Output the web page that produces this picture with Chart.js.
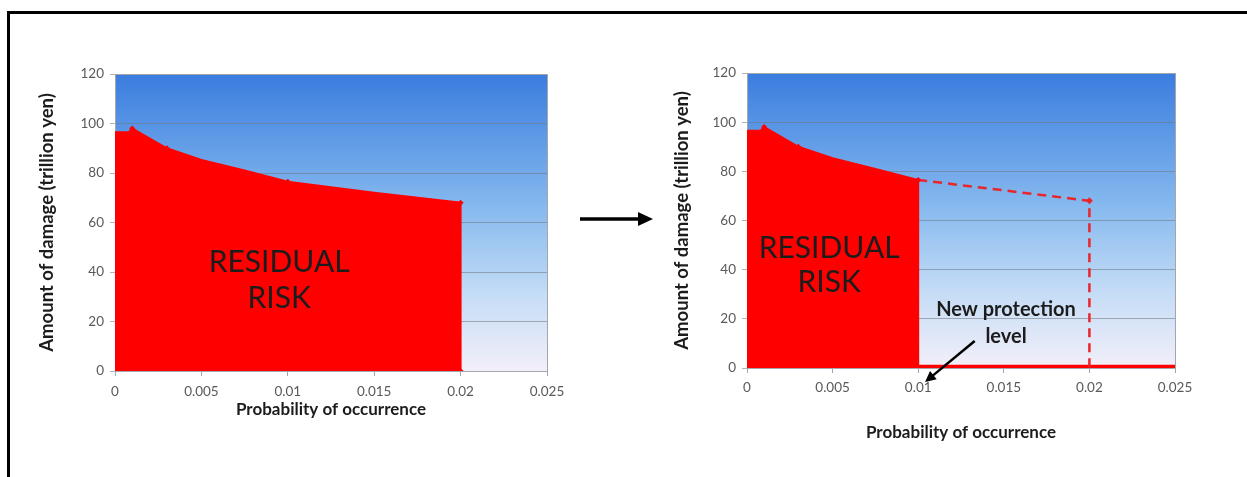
<!DOCTYPE html>
<html>
<head>
<meta charset="utf-8">
<script src="https://cdn.jsdelivr.net/npm/chart.js@4"></script>
<style>
  html, body { margin: 0; padding: 0; background: #fff; }
  body { width: 1247px; height: 477px; position: relative; overflow: hidden; }
  #frame { position: absolute; left: 7px; top: 11px; width: 1250px; height: 480px;
           border-top: 3px solid #000; border-left: 3px solid #000; }
  canvas { position: absolute; }
  #left { left: 0; top: 0; }
  #right { left: 620px; top: 0; }
  #arrow { position: absolute; left: 570px; top: 200px; }
</style>
</head>
<body>
<div id="frame"></div>
<canvas id="left" width="600" height="477"></canvas>
<canvas id="right" width="627" height="477"></canvas>
<svg id="arrow" width="100" height="40">
  <line x1="10" y1="19" x2="70" y2="19" stroke="#000" stroke-width="3.5"/>
  <polygon points="68,12 83,19 68,26" fill="#000"/>
</svg>
<script>
// damage curve: probability of occurrence vs amount of damage (trillion yen)
const probCurve = [0, 0.0008, 0.001, 0.003, 0.005, 0.0075, 0.01, 0.015, 0.02, 0.02];
const damageCurve = [96.5, 96.5, 98, 90, 85.3, 81, 76.5, 72, 68, 0];
const markedCurve = [false, false, true, true, false, false, true, false, true, true];

// after the new protection level only the part up to 0.01 stays as residual risk
const probResidual = [0, 0.0008, 0.001, 0.003, 0.005, 0.0075, 0.01, 0.01];
const damageResidual = [96.5, 96.5, 98, 90, 85.3, 81, 76.5, 0];
const markedResidual = [false, false, true, true, false, false, true, false];

const probRemoved = [0.01, 0.02, 0.02];
const damageRemoved = [76.5, 68, 0];

const probFloor = [0.01, 0.025];
const damageFloor = [0.6, 0.6];

const xTicks = [0, 0.005, 0.01, 0.015, 0.02, 0.025];
const yTicks = [0, 20, 40, 60, 80, 100, 120];

const RED = '#ff0000';
const TEXT = '#1c1c1c';
const FONT = 'Lato, "Open Sans", sans-serif';

function points(xs, ys) {
  return xs.map((x, i) => ({ x: x, y: ys[i] }));
}

// blue-to-lavender plot background plus grey plot frame
const plotBackground = {
  id: 'plotBackground',
  beforeDraw(chart) {
    const { ctx, chartArea: a } = chart;
    const g = ctx.createLinearGradient(0, a.top, 0, a.bottom);
    g.addColorStop(0, '#3a7ddf');
    g.addColorStop(0.45, '#86b9ee');
    g.addColorStop(0.75, '#c6ddf6');
    g.addColorStop(1, '#f3eff9');
    ctx.save();
    ctx.fillStyle = g;
    ctx.fillRect(a.left, a.top, a.right - a.left, a.bottom - a.top);
    ctx.restore();
  },
  beforeDatasetsDraw(chart) {
    const { ctx, chartArea: a } = chart;
    ctx.save();
    ctx.strokeStyle = '#a3a7ad';
    ctx.lineWidth = 1;
    ctx.strokeRect(a.left + 0.5, a.top + 0.5, a.right - a.left, a.bottom - a.top);
    ctx.restore();
  }
};

// text labels placed in data coordinates
const labels = {
  id: 'labels',
  afterDraw(chart, args, opts) {
    const { ctx, scales: { x, y } } = chart;
    ctx.save();
    ctx.textAlign = 'center';
    ctx.textBaseline = 'middle';
    ctx.fillStyle = TEXT;
    (opts.items || []).forEach(t => {
      ctx.font = t.font;
      ctx.fillText(t.text, x.getPixelForValue(t.x), y.getPixelForValue(t.y));
    });
    (opts.arrows || []).forEach(a => {
      const x1 = x.getPixelForValue(a.from[0]), y1 = y.getPixelForValue(a.from[1]);
      const x2 = x.getPixelForValue(a.to[0]), y2 = y.getPixelForValue(a.to[1]) + a.dy;
      const ang = Math.atan2(y2 - y1, x2 - x1);
      const head = 12;
      ctx.strokeStyle = '#000';
      ctx.lineWidth = 2.5;
      ctx.beginPath();
      ctx.moveTo(x1, y1);
      ctx.lineTo(x2 - Math.cos(ang) * head * 0.8, y2 - Math.sin(ang) * head * 0.8);
      ctx.stroke();
      ctx.fillStyle = '#000';
      ctx.beginPath();
      ctx.moveTo(x2, y2);
      ctx.lineTo(x2 - head * Math.cos(ang - 0.45), y2 - head * Math.sin(ang - 0.45));
      ctx.lineTo(x2 - head * Math.cos(ang + 0.45), y2 - head * Math.sin(ang + 0.45));
      ctx.closePath();
      ctx.fill();
    });
    ctx.restore();
  }
};

function scalesFor(yTitlePad, xBoxHeight, yBoxWidth, tickPad) {
  return {
    x: {
      type: 'linear',
      min: 0,
      max: 0.025,
      afterBuildTicks: s => { s.ticks = xTicks.map(v => ({ value: v })); },
      afterFit: s => { s.height = xBoxHeight; },
      ticks: {
        color: '#595959',
        font: { family: FONT, size: 13.5 },
        padding: tickPad,
        callback: v => String(Number(v.toFixed(3)))
      },
      grid: { drawOnChartArea: false, tickLength: 5, color: '#a3a7ad' },
      border: { color: '#a3a7ad' },
      title: {
        display: true,
        text: 'Probability of occurrence',
        color: TEXT,
        font: { family: FONT, size: 17, weight: 'bold' },
        padding: { top: 0, bottom: 1 }
      }
    },
    y: {
      type: 'linear',
      min: 0,
      max: 120,
      afterBuildTicks: s => { s.ticks = yTicks.map(v => ({ value: v })); },
      afterFit: s => { s.width = yBoxWidth; },
      ticks: {
        color: '#595959',
        font: { family: FONT, size: 13.5 },
        padding: 6
      },
      grid: { tickLength: 5, color: 'rgba(112,118,130,0.55)' },
      border: { color: '#a3a7ad' },
      title: {
        display: true,
        text: 'Amount of damage (trillion yen)',
        color: TEXT,
        font: { family: FONT, size: 18.5, weight: 'bold' },
        padding: { top: yTitlePad, bottom: 0 }
      }
    }
  };
}

const common = {
  responsive: false,
  animation: false,
  events: [],
  plugins: { legend: { display: false }, tooltip: { enabled: false } }
};

const bigFont = '30px ' + FONT;
const boldFont = 'bold 20px ' + FONT;

new Chart(document.getElementById('left'), {
  type: 'line',
  data: {
    datasets: [{
      data: points(probCurve, damageCurve),
      fill: 'origin',
      backgroundColor: RED,
      borderColor: RED,
      borderWidth: 2,
      pointStyle: 'rectRot',
      pointRadius: markedCurve.map(m => m ? 3 : 0),
      pointBackgroundColor: RED,
      pointBorderWidth: 0
    }]
  },
  options: {
    ...common,
    layout: { padding: { left: 30, top: 74, right: 53, bottom: 477 - 371 - 50 } },
    scales: scalesFor(6, 50, 85, 8),
    plugins: {
      ...common.plugins,
      labels: {
        items: [
          { text: 'RESIDUAL', x: 0.0095, y: 44, font: bigFont },
          { text: 'RISK', x: 0.0095, y: 29.5, font: bigFont }
        ]
      }
    }
  },
  plugins: [plotBackground, labels]
});

new Chart(document.getElementById('right'), {
  type: 'line',
  data: {
    datasets: [{
      data: points(probResidual, damageResidual),
      fill: 'origin',
      backgroundColor: RED,
      borderColor: RED,
      borderWidth: 2,
      pointStyle: 'rectRot',
      pointRadius: markedResidual.map(m => m ? 3 : 0),
      pointBackgroundColor: RED,
      pointBorderWidth: 0
    }, {
      data: points(probRemoved, damageRemoved),
      fill: false,
      borderColor: '#e8262b',
      borderWidth: 2.5,
      borderDash: [9, 6],
      pointStyle: 'rectRot',
      pointRadius: [0, 3.5, 0],
      pointBackgroundColor: '#e8262b',
      pointBorderWidth: 0
    }, {
      data: points(probFloor, damageFloor),
      fill: false,
      borderColor: RED,
      borderWidth: 3.5,
      pointRadius: 0
    }]
  },
  options: {
    ...common,
    layout: { padding: { left: 42, top: 73, right: 72, bottom: 477 - 368 - 76 } },
    scales: scalesFor(9, 76, 85, 7),
    plugins: {
      ...common.plugins,
      labels: {
        items: [
          { text: 'RESIDUAL', x: 0.0048, y: 48.8, font: bigFont },
          { text: 'RISK', x: 0.0048, y: 35, font: bigFont },
          { text: 'New protection', x: 0.01513, y: 23.6, font: boldFont },
          { text: 'level', x: 0.01513, y: 12.6, font: boldFont }
        ],
        arrows: [{ from: [0.0133, 11], to: [0.0104, 0], dy: 14 }]
      }
    }
  },
  plugins: [plotBackground, labels]
});
</script>
</body>
</html>
